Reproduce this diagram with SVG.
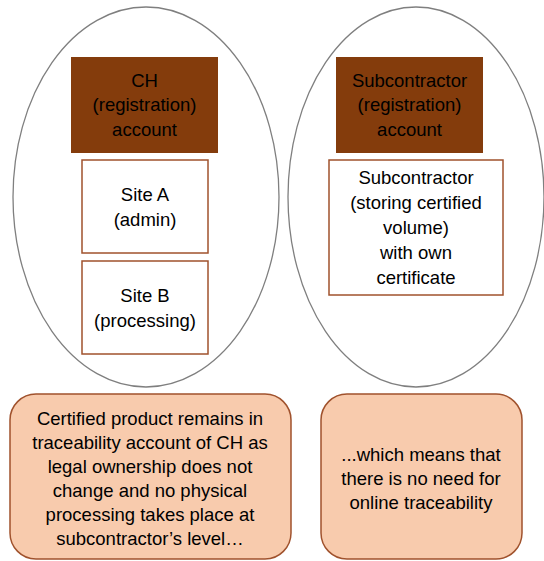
<svg xmlns="http://www.w3.org/2000/svg" width="544" height="561" viewBox="0 0 544 561">
<style>
.ell{fill:#fff;stroke:#7f7f7f;stroke-width:1.3}
.acc{fill:#843C0C;stroke:none}
.site{fill:#fff;stroke:#A0522D;stroke-width:1.5}
.note{fill:#F8CBAD;stroke:#A0522D;stroke-width:1.5}
text{font-family:"Liberation Sans",Arial,sans-serif;font-size:18.5px;fill:#000;text-anchor:middle}
</style>
<rect width="544" height="561" fill="#fff"/>
<g id="left-group">
<ellipse class="ell" cx="146" cy="197" rx="133" ry="190"/>
</g>
<g id="right-group">
<ellipse class="ell" cx="416" cy="197" rx="128" ry="190"/>
</g>
<g id="ch-account">
<rect class="acc" x="71" y="57" width="147" height="96"/>
<text x="144.5" y="87">CH</text>
<text x="144.5" y="111">(registration)</text>
<text x="144.5" y="136">account</text>
</g>
<g id="site-a">
<rect class="site" x="82" y="160" width="126" height="93"/>
<text x="145" y="201">Site A</text>
<text x="145" y="226">(admin)</text>
</g>
<g id="site-b">
<rect class="site" x="82" y="261" width="126" height="93"/>
<text x="145" y="302">Site B</text>
<text x="145" y="327">(processing)</text>
</g>
<g id="sub-account">
<rect class="acc" x="336" y="57" width="147" height="96"/>
<text x="409.5" y="87">Subcontractor</text>
<text x="409.5" y="111">(registration)</text>
<text x="409.5" y="136">account</text>
</g>
<g id="sub-site">
<rect class="site" x="329" y="160" width="174" height="135"/>
<text x="416" y="184">Subcontractor</text>
<text x="416" y="209">(storing certified</text>
<text x="416" y="234">volume)</text>
<text x="416" y="259">with own</text>
<text x="416" y="284">certificate</text>
</g>
<g id="note-left">
<rect class="note" x="10" y="394" width="281" height="165" rx="26"/>
<text x="150" y="425">Certified product remains in</text>
<text x="150" y="449">traceability account of CH as</text>
<text x="150" y="473">legal ownership does not</text>
<text x="150" y="497">change and no physical</text>
<text x="150" y="521">processing takes place at</text>
<text x="150" y="545">subcontractor’s level…</text>
</g>
<g id="note-right">
<rect class="note" x="321" y="394" width="201" height="165" rx="26"/>
<text x="421" y="461">...which means that</text>
<text x="421" y="485">there is no need for</text>
<text x="421" y="509">online traceability</text>
</g>
<g id="connectors"></g>
</svg>
